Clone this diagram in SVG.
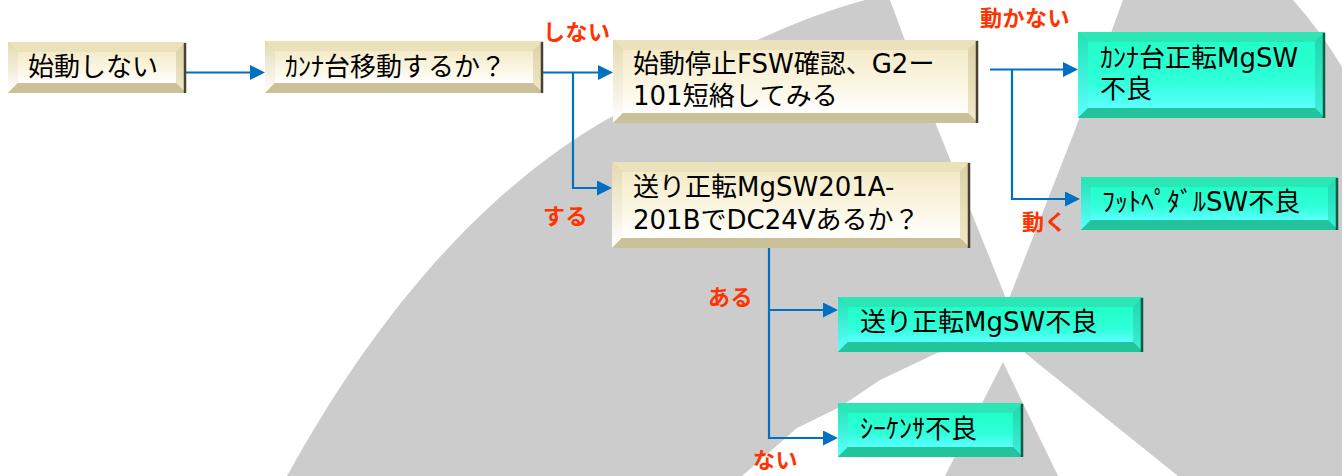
<svg xmlns="http://www.w3.org/2000/svg" width="1342" height="476" viewBox="0 0 1342 476">
<defs>
<style>
.bg{fill:#cccccc}
.cf{fill:url(#cface)}
.ct{fill:#ebe2bc}
.cl{fill:url(#cleft)}
.cr{fill:url(#cright)}
.cb{fill:#cbc199}
.ce{fill:#d4ca9f}
.tf{fill:url(#tface)}
.tt{fill:#2ce6b6}
.tl{fill:url(#tleft)}
.tr{fill:url(#tright)}
.tb{fill:#22c49c}
.te{fill:#1fd3a8}
.dk{stroke:#4a4230;stroke-width:2.5}
.dkt{stroke:#125a46;stroke-width:2.5}
.lbl{font-family:"DejaVu Sans","Noto Sans CJK JP",sans-serif;font-size:26px;fill:#000}
.red{font-family:"Noto Sans CJK JP",sans-serif;font-size:22px;font-weight:700;fill:#ff3300;letter-spacing:0.5px}
.con{fill:none;stroke:#0070c0;stroke-width:2.2}
</style>
<linearGradient id="cface" x1="0" y1="0" x2="0" y2="1">
<stop offset="0" stop-color="#f4ebc9"/><stop offset="0.55" stop-color="#fbf6e2"/><stop offset="1" stop-color="#ffffff"/>
</linearGradient>
<linearGradient id="cleft" x1="0" y1="0" x2="0" y2="1">
<stop offset="0" stop-color="#e4dab0"/><stop offset="1" stop-color="#ffffff"/>
</linearGradient>
<linearGradient id="cright" x1="0" y1="0" x2="0" y2="1">
<stop offset="0" stop-color="#dcd2a8"/><stop offset="1" stop-color="#f0e8c8"/>
</linearGradient>
<linearGradient id="tface" x1="0" y1="0" x2="0" y2="1">
<stop offset="0" stop-color="#22ffc9"/><stop offset="0.6" stop-color="#2fffd8"/><stop offset="1" stop-color="#5cffff"/>
</linearGradient>
<linearGradient id="tleft" x1="0" y1="0" x2="0" y2="1">
<stop offset="0" stop-color="#22e2b4"/><stop offset="1" stop-color="#5cffff"/>
</linearGradient>
<linearGradient id="tright" x1="0" y1="0" x2="0" y2="1">
<stop offset="0" stop-color="#1ed8aa"/><stop offset="1" stop-color="#3cf0d8"/>
</linearGradient>
<marker id="ah" viewBox="0 0 15 15" refX="12" refY="7.5" markerWidth="15" markerHeight="15" markerUnits="userSpaceOnUse" orient="auto">
<path d="M0,0 L15,7.5 L0,15 Z" fill="#0070c0"/>
</marker>
</defs>
<rect width="1342" height="476" fill="#ffffff"/>
<g id="background">
<path class="bg" d="M287,476 C390,290 500,180 611,117 C700,65 790,20 865,0 L890,0 L937,127 L1005,296 L1005,340 L937,353 L880,380 L840,407 L797,428 L742,476 Z"/>
<path class="bg" d="M1123,0 L1293,0 Q1320,30 1342,67 L1342,476 L1178,476 L1025,353 L1010,296 L1075,130 Z"/>
<path class="bg" d="M945,476 L1003,362 L1058,476 Z"/>
</g>
<g id="connectors">
<path class="con" d="M176,72.5 H262" marker-end="url(#ah)"/>
<path class="con" d="M538,72.5 H610" marker-end="url(#ah)"/>
<path class="con" d="M573,72.5 V188 H609" marker-end="url(#ah)"/>
<path class="con" d="M990,69.5 H1075" marker-end="url(#ah)"/>
<path class="con" d="M1012,69.5 V199 H1077" marker-end="url(#ah)"/>
<path class="con" d="M769,248 V438 H835" marker-end="url(#ah)"/>
<path class="con" d="M769,310 H835" marker-end="url(#ah)"/>
</g>
<g id="n1">
<rect class="ce" x="8" y="42" width="178" height="51"/>
<polygon class="ct" points="8,42 186,42 176,52 18,52"/>
<polygon class="cl" points="8,42 18,52 18,83 8,93"/>
<polygon class="cr" points="186,42 186,93 176,83 176,52"/>
<polygon class="cb" points="8,93 18,83 176,83 186,93"/>
<rect class="cf" x="18" y="52" width="158" height="31"/>
<line class="dk" x1="185" y1="43" x2="185" y2="93"/>
<text class="lbl" x="28" y="76">始動しない</text>
</g>
<g id="n2">
<rect class="ce" x="265" y="41" width="278" height="52"/>
<polygon class="ct" points="265,41 543,41 533,51 275,51"/>
<polygon class="cl" points="265,41 275,51 275,83 265,93"/>
<polygon class="cr" points="543,41 543,93 533,83 533,51"/>
<polygon class="cb" points="265,93 275,83 533,83 543,93"/>
<rect class="cf" x="275" y="51" width="258" height="32"/>
<line class="dk" x1="542" y1="42" x2="542" y2="93"/>
<text class="lbl" x="285" y="76">ｶﾝﾅ台移動するか？</text>
</g>
<g id="n3">
<rect class="ce" x="613" y="40" width="365" height="83"/>
<polygon class="ct" points="613,40 978,40 968,50 623,50"/>
<polygon class="cl" points="613,40 623,50 623,113 613,123"/>
<polygon class="cr" points="978,40 978,123 968,113 968,50"/>
<polygon class="cb" points="613,123 623,113 968,113 978,123"/>
<rect class="cf" x="623" y="50" width="345" height="63"/>
<line class="dk" x1="977" y1="41" x2="977" y2="123"/>
<text class="lbl" x="633" y="73">始動停止FSW確認、G2ー</text>
<text class="lbl" x="633" y="105">101短絡してみる</text>
</g>
<g id="n4">
<rect class="ce" x="612" y="162" width="358" height="86"/>
<polygon class="ct" points="612,162 970,162 960,172 622,172"/>
<polygon class="cl" points="612,162 622,172 622,238 612,248"/>
<polygon class="cr" points="970,162 970,248 960,238 960,172"/>
<polygon class="cb" points="612,248 622,238 960,238 970,248"/>
<rect class="cf" x="622" y="172" width="338" height="66"/>
<line class="dk" x1="969" y1="163" x2="969" y2="248"/>
<text class="lbl" x="633" y="196">送り正転MgSW201A-</text>
<text class="lbl" x="633" y="229">201BでDC24Vあるか？</text>
</g>
<g id="n5">
<rect class="te" x="1078" y="32" width="247" height="86"/>
<polygon class="tt" points="1078,32 1325,32 1315,42 1088,42"/>
<polygon class="tl" points="1078,32 1088,42 1088,108 1078,118"/>
<polygon class="tr" points="1325,32 1325,118 1315,108 1315,42"/>
<polygon class="tb" points="1078,118 1088,108 1315,108 1325,118"/>
<rect class="tf" x="1088" y="42" width="227" height="66"/>
<line class="dkt" x1="1324" y1="33" x2="1324" y2="118"/>
<text class="lbl" x="1100" y="67">ｶﾝﾅ台正転MgSW</text>
<text class="lbl" x="1100" y="98">不良</text>
</g>
<g id="n6">
<rect class="te" x="1081" y="177" width="257" height="53"/>
<polygon class="tt" points="1081,177 1338,177 1328,187 1091,187"/>
<polygon class="tl" points="1081,177 1091,187 1091,220 1081,230"/>
<polygon class="tr" points="1338,177 1338,230 1328,220 1328,187"/>
<polygon class="tb" points="1081,230 1091,220 1328,220 1338,230"/>
<rect class="tf" x="1091" y="187" width="237" height="33"/>
<line class="dkt" x1="1337" y1="178" x2="1337" y2="230"/>
<text class="lbl" x="1102" y="211">ﾌｯﾄﾍﾟﾀﾞﾙSW不良</text>
</g>
<g id="n7">
<rect class="te" x="838" y="297" width="305" height="55"/>
<polygon class="tt" points="838,297 1143,297 1133,307 848,307"/>
<polygon class="tl" points="838,297 848,307 848,342 838,352"/>
<polygon class="tr" points="1143,297 1143,352 1133,342 1133,307"/>
<polygon class="tb" points="838,352 848,342 1133,342 1143,352"/>
<rect class="tf" x="848" y="307" width="285" height="35"/>
<line class="dkt" x1="1142" y1="298" x2="1142" y2="352"/>
<text class="lbl" x="860" y="331">送り正転MgSW不良</text>
</g>
<g id="n8">
<rect class="te" x="838" y="403" width="185" height="54"/>
<polygon class="tt" points="838,403 1023,403 1013,413 848,413"/>
<polygon class="tl" points="838,403 848,413 848,447 838,457"/>
<polygon class="tr" points="1023,403 1023,457 1013,447 1013,413"/>
<polygon class="tb" points="838,457 848,447 1013,447 1023,457"/>
<rect class="tf" x="848" y="413" width="165" height="34"/>
<line class="dkt" x1="1022" y1="404" x2="1022" y2="457"/>
<text class="lbl" x="860" y="438">ｼｰｹﾝｻ不良</text>
</g>
<g id="labels">
<text class="red" x="543" y="40">しない</text>
<text class="red" x="980" y="26">動かない</text>
<text class="red" x="543" y="224">する</text>
<text class="red" x="708" y="305">ある</text>
<text class="red" x="753" y="468">ない</text>
<text class="red" x="1022" y="230">動く</text>
</g>
</svg>
